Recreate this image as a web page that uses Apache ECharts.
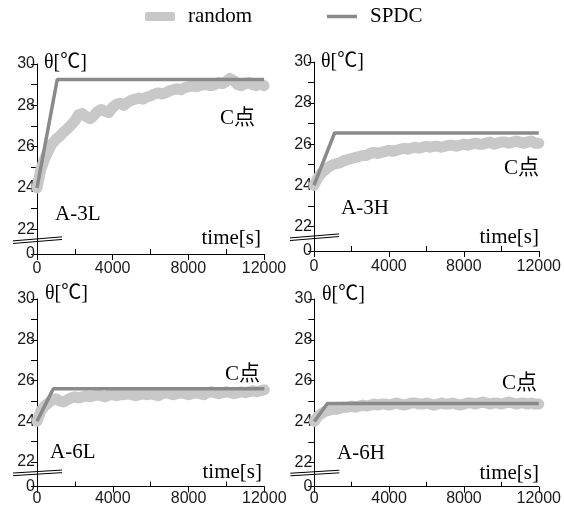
<!DOCTYPE html>
<html><head><meta charset="utf-8">
<script src="https://cdn.jsdelivr.net/npm/echarts@6/dist/echarts.min.js"></script>
<style>html,body{margin:0;padding:0;background:#fff}#c{width:564px;height:517px}</style>
</head><body><div id="c"></div>
<script>
const times = [0,200,400,600,800,1000,1200,1400,1600,1800,2000,2200,2400,2600,2800,3000,3200,3400,3600,3800,4000,4200,4400,4600,4800,5000,5200,5400,5600,5800,6000,6200,6400,6600,6800,7000,7200,7400,7600,7800,8000,8200,8400,8600,8800,9000,9200,9400,9600,9800,10000,10200,10400,10600,10800,11000,11200,11400,11600,11800,12000];
const randomA3L = [24.0,24.9,25.4,25.8,26.15,26.35,26.5,26.7,26.85,27.05,27.25,27.55,27.6,27.45,27.35,27.5,27.7,27.8,27.7,27.65,27.9,28.05,28.1,28.0,28.15,28.25,28.3,28.35,28.3,28.4,28.45,28.55,28.6,28.55,28.6,28.7,28.75,28.8,28.75,28.85,28.9,28.95,28.9,28.95,29.0,29.0,28.95,29.0,29.1,29.05,29.15,29.3,29.2,29.0,28.95,29.05,29.1,29.0,28.95,29.05,28.95];
const randomA3H = [24.0,24.35,24.6,24.75,24.9,25.0,25.05,25.1,25.2,25.25,25.3,25.35,25.4,25.45,25.45,25.55,25.6,25.55,25.6,25.65,25.7,25.65,25.7,25.75,25.8,25.75,25.8,25.85,25.8,25.85,25.9,25.85,25.9,25.9,25.85,25.9,25.95,25.95,25.9,25.95,26.0,25.95,26.0,26.05,26.0,26.0,26.05,26.1,26.0,26.05,26.1,26.1,26.05,26.1,26.15,26.1,26.05,26.1,26.15,26.05,26.05];
const randomA6L = [24.0,24.5,24.75,24.9,25.05,25.1,25.0,24.95,25.05,25.15,25.2,25.15,25.2,25.25,25.2,25.25,25.3,25.25,25.2,25.3,25.3,25.25,25.3,25.3,25.35,25.3,25.25,25.3,25.35,25.3,25.35,25.3,25.25,25.35,25.4,25.35,25.3,25.35,25.4,25.35,25.3,25.35,25.4,25.35,25.3,25.4,25.45,25.4,25.35,25.4,25.45,25.4,25.35,25.4,25.45,25.4,25.45,25.5,25.45,25.5,25.55];
const randomA6H = [24.0,24.25,24.4,24.5,24.55,24.6,24.6,24.65,24.7,24.7,24.75,24.7,24.75,24.8,24.75,24.8,24.85,24.8,24.85,24.85,24.8,24.85,24.9,24.85,24.8,24.85,24.9,24.9,24.85,24.85,24.9,24.85,24.8,24.85,24.9,24.85,24.85,24.9,24.85,24.8,24.85,24.9,24.9,24.85,24.9,24.95,24.9,24.85,24.9,24.9,24.85,24.9,24.95,24.9,24.85,24.9,24.9,24.85,24.9,24.85,24.85];
const spdcA3L = [[0,24],[1070,29.25],[12000,29.25]];
const spdcA3H = [[0,24],[1100,26.55],[12000,26.55]];
const spdcA6L = [[0,24],[860,25.6],[12000,25.6]];
const spdcA6H = [[0,24],[700,24.88],[12000,24.88]];
const panelNames = ['A-3L','A-3H','A-6L','A-6H'];
const yTickValues = [20.8,22,24,26,28,30];
const yTickLabels = ['0','22','24','26','28','30'];
const yTickMarks = [20.8,22,23,24,25,26,27,28,29,30];
const xMinorTicks = [2000,6000,10000];
const yAxisTitle = 'θ[℃]';
const xAxisTitle = 'time[s]';
const pointLabel = 'C点';

const randoms = [randomA3L, randomA3H, randomA6L, randomA6H];
const spdcs = [spdcA3L, spdcA3H, spdcA6L, spdcA6H];
const grids = [
  {left:37, top:64, width:227, height:190},
  {left:314, top:62, width:226.5, height:189},
  {left:37, top:299, width:227.3, height:187.5},
  {left:314.3, top:299, width:227, height:187.7}
];
const xLabelMargins = [7, 8, 4, 4];
const numFont = "'Liberation Sans Narrow','Arial Narrow','Liberation Sans',sans-serif";
const serifFont = "'Liberation Serif','Times New Roman','Noto Sans CJK JP',serif";
const RANDOM_COLOR = '#c8c8c8', SPDC_COLOR = '#8a8a8a';

const xAxes = [], yAxes = [], series = [];
grids.forEach((g, i) => {
  xAxes.push({
    type:'value', gridIndex:i, min:0, max:12000, interval:4000, position:'bottom',
    axisLine:{show:true, lineStyle:{color:'#000', width:1}},
    axisTick:{show:true, length:6, lineStyle:{color:'#000', width:1}},
    axisLabel:{show:true, margin:xLabelMargins[i], color:'#1a1a1a', fontFamily:numFont, fontSize:16,
      showMinLabel:true, showMaxLabel:true, formatter:(v) => String(v)},
    splitLine:{show:false}
  });
  xAxes.push({
    type:'value', gridIndex:i, min:0, max:12000, position:'bottom', offset:0,
    axisLine:{show:false},
    axisTick:{show:true, inside:true, length:5, customValues:xMinorTicks, lineStyle:{color:'#000', width:1}},
    axisLabel:{show:false}, splitLine:{show:false}
  });
  yAxes.push({
    type:'value', gridIndex:i, min:20.8, max:30,
    axisLine:{show:true, lineStyle:{color:'#000', width:1}},
    axisTick:{show:true, length:6, customValues:yTickMarks, lineStyle:{color:'#000', width:1}},
    axisLabel:{show:true, margin:2, color:'#1a1a1a', fontFamily:numFont, fontSize:16,
      customValues:yTickValues,
      formatter:(v) => { let k = 0; let best = 1e9; yTickValues.forEach((t, j) => { const d = Math.abs(t - v); if (d < best) { best = d; k = j; } }); return yTickLabels[k]; }},
    splitLine:{show:false}
  });
  series.push({
    name:'random', type:'line', xAxisIndex:2*i, yAxisIndex:i, z:2,
    data: times.map((t, j) => [t, randoms[i][j]]),
    showSymbol:false, symbol:'none', color:RANDOM_COLOR,
    lineStyle:{color:RANDOM_COLOR, width:11, cap:'round', join:'round'}
  });
  series.push({
    name:'SPDC', type:'line', xAxisIndex:2*i, yAxisIndex:i, z:3,
    data: spdcs[i], showSymbol:false, symbol:'none', color:SPDC_COLOR,
    lineStyle:{color:SPDC_COLOR, width:3.5}
  });
});

const chart = echarts.init(document.getElementById('c'), null, {renderer:'canvas'});
chart.setOption({
  backgroundColor:'#fff',
  animation:false,
  legend:[
    {data:['random'], left:140, top:1, icon:'roundRect', itemWidth:30, itemHeight:9,
     textStyle:{fontFamily:serifFont, fontSize:21, color:'#000', padding:[0,0,0,8]}},
    {data:['SPDC'], left:322, top:1, icon:'rect', itemWidth:30, itemHeight:3.5,
     textStyle:{fontFamily:serifFont, fontSize:21, color:'#000', padding:[0,0,0,8]}}
  ],
  grid: grids,
  xAxis: xAxes,
  yAxis: yAxes,
  series: series
});

// annotation texts and axis-break marks
const textSpots = [
  {theta:[44,63], name:[55,214], c:[255,118], t:[261,238]},
  {theta:[321,62], name:[341,208], c:[539,168], t:[539,237]},
  {theta:[45,294], name:[50,452], c:[260,374], t:[262,472]},
  {theta:[322,295], name:[337,453], c:[537,383], t:[539,473]}
];
const graphics = [];
const font = '21px ' + serifFont;
textSpots.forEach((s, i) => {
  graphics.push({type:'text', x:s.theta[0], y:s.theta[1], style:{text:yAxisTitle, font:'20px ' + serifFont, fill:'#000', align:'left', verticalAlign:'middle'}});
  graphics.push({type:'text', x:s.name[0], y:s.name[1], style:{text:panelNames[i], font:font, fill:'#000', align:'left', verticalAlign:'middle'}});
  graphics.push({type:'text', x:s.c[0], y:s.c[1], style:{text:pointLabel, font:font, fill:'#000', align:'right', verticalAlign:'middle'}});
  graphics.push({type:'text', x:s.t[0], y:s.t[1], style:{text:xAxisTitle, font:font, fill:'#000', align:'right', verticalAlign:'middle'}});
  const p = chart.convertToPixel({gridIndex:i}, [0, 21.47]);
  const slope = i < 2 ? 2 : 1.5;
  [-1.3, 1.3].forEach(off => {
    graphics.push({type:'line', z:10, shape:{x1:p[0]-24, y1:p[1]+off+slope, x2:p[0]+25, y2:p[1]+off-slope},
      style:{stroke:'#000', lineWidth:1}});
  });
});
chart.setOption({graphic: graphics});
</script>
</body></html>
